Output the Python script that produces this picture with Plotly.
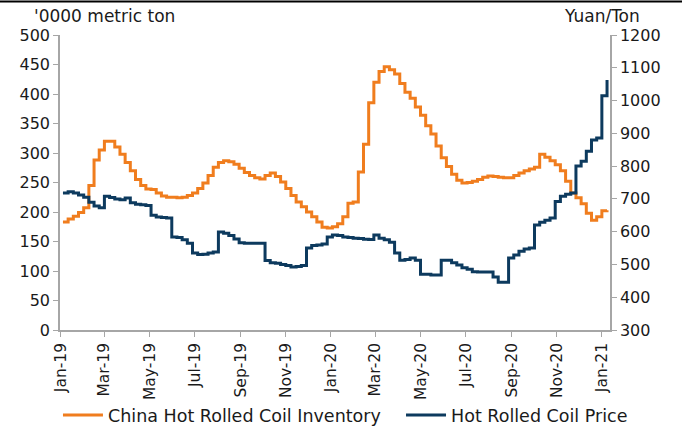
import pandas as pd
import plotly.graph_objects as go

# Weekly observations, starting 4 Jan 2019
dates = pd.date_range("2019-01-04", periods=106, freq="7D")

inventory = [
    183, 188, 193, 199, 207, 245, 288, 305, 320, 320,
    310, 298, 284, 270, 255, 245, 239, 238, 232, 227,
    225, 225, 224, 225, 228, 232, 240, 249, 262, 276,
    284, 287, 285, 281, 274, 267, 262, 258, 256, 262,
    266, 260, 251, 240, 228, 217, 209, 200, 192, 183,
    174, 173, 175, 180, 192, 215, 217, 268, 315, 385,
    420, 438, 446, 441, 434, 418, 403, 393, 378, 364,
    346, 332, 312, 292, 277, 264, 254, 249, 250, 252,
    255, 259, 261, 260, 259, 258, 258, 262, 266, 270,
    273, 276, 298, 293, 287, 280, 270, 252, 232, 224,
    214, 198, 186, 192, 202, 203,
]

price = [
    718, 722, 718, 712, 705, 690, 678, 673, 708, 704,
    700, 697, 703, 688, 684, 682, 680, 650, 645, 643,
    642, 584, 582, 575, 565, 535, 530, 531, 535, 538,
    599, 595, 588, 578, 566, 565, 565, 565, 565, 512,
    505, 504, 500, 497, 492, 494, 497, 550, 558, 559,
    562, 584, 590, 588, 584, 582, 580, 579, 577, 576,
    590, 580, 575, 568, 535, 513, 515, 520, 513, 470,
    470, 468, 468, 513, 513, 505, 498, 490, 485, 478,
    477, 477, 477, 462, 446, 446, 520, 529, 540, 547,
    550, 620, 629, 635, 642, 692, 708, 714, 718, 800,
    815, 845, 880, 886, 1015, 1063,
]

tick_dates = ["2019-01-01", "2019-03-01", "2019-05-01", "2019-07-01", "2019-09-01",
              "2019-11-01", "2020-01-01", "2020-03-01", "2020-05-01", "2020-07-01",
              "2020-09-01", "2020-11-01", "2021-01-01"]
tick_labels = ["Jan-19", "Mar-19", "May-19", "Jul-19", "Sep-19", "Nov-19", "Jan-20",
               "Mar-20", "May-20", "Jul-20", "Sep-20", "Nov-20", "Jan-21"]

left_ticks = list(range(0, 501, 50))
right_ticks = list(range(300, 1201, 100))

ORANGE = "#F07D1E"
NAVY = "#0D3A5E"
AXIS = "#A6A6A6"
FONT = "DejaVu Sans"

fig = go.Figure()
fig.add_trace(go.Scatter(x=dates, y=inventory, name="China Hot Rolled Coil Inventory",
                         mode="lines", line=dict(color=ORANGE, width=3, shape="hv"),
                         yaxis="y", legend="legend"))
fig.add_trace(go.Scatter(x=dates, y=price, name="Hot Rolled Coil Price",
                         mode="lines", line=dict(color=NAVY, width=3, shape="hv"),
                         yaxis="y2", legend="legend2"))

legend_common = dict(orientation="h", xref="container", yref="container",
                     xanchor="left", y=0.0258, yanchor="middle",
                     font=dict(size=17.5), bgcolor="rgba(0,0,0,0)", itemwidth=40)

fig.update_layout(
    width=682, height=426,
    margin=dict(l=60, r=72, t=35, b=96),
    paper_bgcolor="white", plot_bgcolor="white",
    font=dict(family=FONT, size=16, color="#1a1a1a"),
    showlegend=True,
    legend=dict(x=0.085, **legend_common),
    legend2=dict(x=0.588, **legend_common),
    xaxis=dict(type="date", range=["2018-12-31", "2021-01-12"],
               tickvals=tick_dates, ticktext=tick_labels, tickangle=-90,
               showgrid=False, zeroline=False, showline=True, linecolor=AXIS, linewidth=1.5,
               ticks="outside", ticklen=5, tickcolor=AXIS, tickfont=dict(size=15.5),
               automargin=False),
    yaxis=dict(range=[0, 500], tickvals=left_ticks, showgrid=False, zeroline=False,
               showline=True, linecolor=AXIS, linewidth=1.5, ticks="outside", ticklen=5,
               tickcolor=AXIS, tickfont=dict(size=16), automargin=False),
    yaxis2=dict(range=[300, 1200], tickvals=right_ticks, overlaying="y", side="right",
                showgrid=False, zeroline=False, showline=True, linecolor=AXIS, linewidth=1.5,
                ticks="outside", ticklen=5, tickcolor=AXIS, tickfont=dict(size=16),
                automargin=False),
    annotations=[
        dict(text="'0000 metric ton", xref="paper", yref="paper", x=-0.0509, y=1.0644,
             xanchor="left", yanchor="middle", showarrow=False, font=dict(size=17)),
        dict(text="Yuan/Ton", xref="paper", yref="paper", x=1.058, y=1.0644,
             xanchor="right", yanchor="middle", showarrow=False, font=dict(size=17)),
    ],
    shapes=[
        dict(type="line", xref="paper", yref="paper", x0=-0.12, x1=1.15,
             y0=1.1136, y1=1.1136, line=dict(color="#000000", width=2)),
    ],
)

fig.write_html("out.html")
